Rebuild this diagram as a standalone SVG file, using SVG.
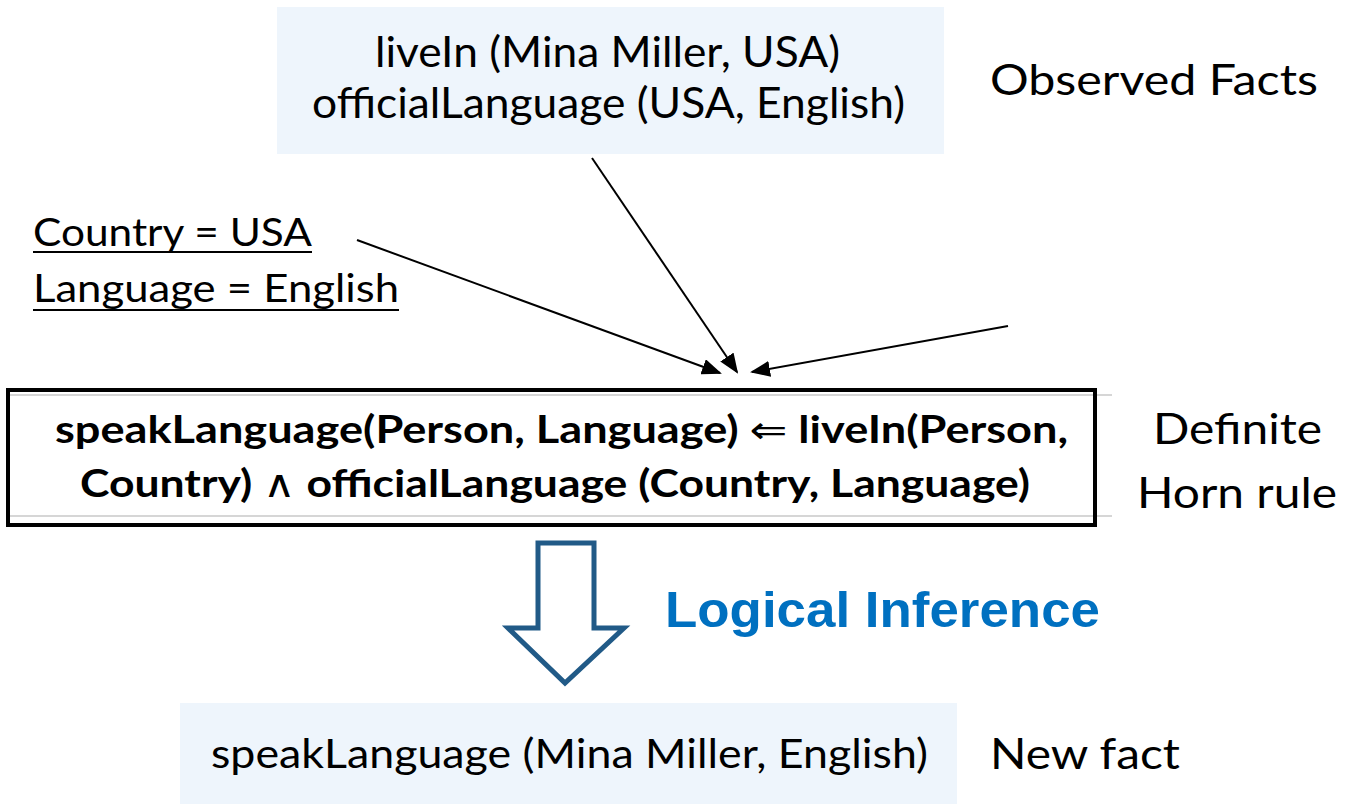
<svg xmlns="http://www.w3.org/2000/svg" width="1345" height="804" viewBox="0 0 1345 804">
  <style>
    .txt { font-family: Lato, "Open Sans", "Liberation Sans", sans-serif; fill: #000; }
    .bold { font-weight: 700; }
    .sym { font-family: "DejaVu Sans", "Liberation Sans", sans-serif; font-weight: 400; }
    .fact { fill: #EEF5FC; }
    .conn { stroke: #000; stroke-width: 2; fill: none; marker-end: url(#head); }
  </style>
  <defs>
    <marker id="head" markerWidth="20" markerHeight="16" refX="18" refY="8" orient="auto" markerUnits="userSpaceOnUse">
      <path d="M0,0 L20,8 L0,16 Z" fill="#000"/>
    </marker>
  </defs>
  <rect width="1345" height="804" fill="#fff"/>

  <!-- observed facts -->
  <g id="observed">
    <rect class="fact" x="277" y="7" width="667" height="147"/>
    <text class="txt" x="375" y="67" font-size="42" textLength="465" lengthAdjust="spacingAndGlyphs">liveIn (Mina Miller, USA)</text>
    <text class="txt" x="312" y="118" font-size="42" textLength="593" lengthAdjust="spacingAndGlyphs">officialLanguage (USA, English)</text>
  </g>
  <g id="observed-label">
    <text class="txt" x="990" y="95" font-size="42" textLength="328" lengthAdjust="spacingAndGlyphs">Observed Facts</text>
  </g>

  <!-- variable bindings -->
  <g id="bindings">
    <text class="txt" x="33" y="246" font-size="38" textLength="279" lengthAdjust="spacingAndGlyphs">Country = USA</text>
    <line x1="33" y1="252" x2="312" y2="252" stroke="#000" stroke-width="2"/>
    <text class="txt" x="33" y="302" font-size="38" textLength="366" lengthAdjust="spacingAndGlyphs">Language = English</text>
    <line x1="33" y1="310" x2="399" y2="310" stroke="#000" stroke-width="2"/>
  </g>

  <!-- connectors into the rule -->
  <g id="connectors">
    <line class="conn" x1="357" y1="240" x2="720" y2="373"/>
    <line class="conn" x1="592" y1="158" x2="737" y2="372"/>
    <line class="conn" x1="1008" y1="326" x2="752" y2="372"/>
  </g>

  <!-- Horn rule -->
  <g id="rule">
    <line x1="10" y1="395" x2="1112" y2="395" stroke="#C8C8C8" stroke-width="1.5"/>
    <line x1="10" y1="516" x2="1112" y2="516" stroke="#C8C8C8" stroke-width="1.5"/>
    <rect x="8" y="390" width="1087" height="135" fill="none" stroke="#000" stroke-width="4"/>
    <text class="txt bold" x="55" y="443" font-size="38" textLength="1013" lengthAdjust="spacingAndGlyphs">speakLanguage(Person, Language) <tspan class="sym">⇐</tspan> liveIn(Person,</text>
    <text class="txt bold" x="80" y="497" font-size="38" textLength="950" lengthAdjust="spacingAndGlyphs">Country) <tspan class="sym">∧</tspan> officialLanguage (Country, Language)</text>
  </g>
  <g id="rule-label">
    <text class="txt" x="1153" y="444" font-size="43" textLength="169" lengthAdjust="spacingAndGlyphs">Definite</text>
    <text class="txt" x="1137" y="508" font-size="43" textLength="200" lengthAdjust="spacingAndGlyphs">Horn rule</text>
  </g>

  <!-- inference step -->
  <g id="inference">
    <path d="M538,543 L594,543 L594,628 L624,628 L565,683 L508,628 L538,628 Z" fill="#fff" stroke="#215A87" stroke-width="5" stroke-linejoin="miter"/>
    <text x="665" y="627" font-family="'Liberation Sans', Arial, sans-serif" font-weight="700" font-size="50" fill="#0070C0" textLength="435" lengthAdjust="spacingAndGlyphs">Logical Inference</text>
  </g>

  <!-- derived fact -->
  <g id="new-fact">
    <rect class="fact" x="180" y="703" width="777" height="101"/>
    <text class="txt" x="211" y="768" font-size="41" textLength="717" lengthAdjust="spacingAndGlyphs">speakLanguage (Mina Miller, English)</text>
  </g>
  <g id="new-fact-label">
    <text class="txt" x="990" y="769" font-size="42" textLength="190" lengthAdjust="spacingAndGlyphs">New fact</text>
  </g>
</svg>
